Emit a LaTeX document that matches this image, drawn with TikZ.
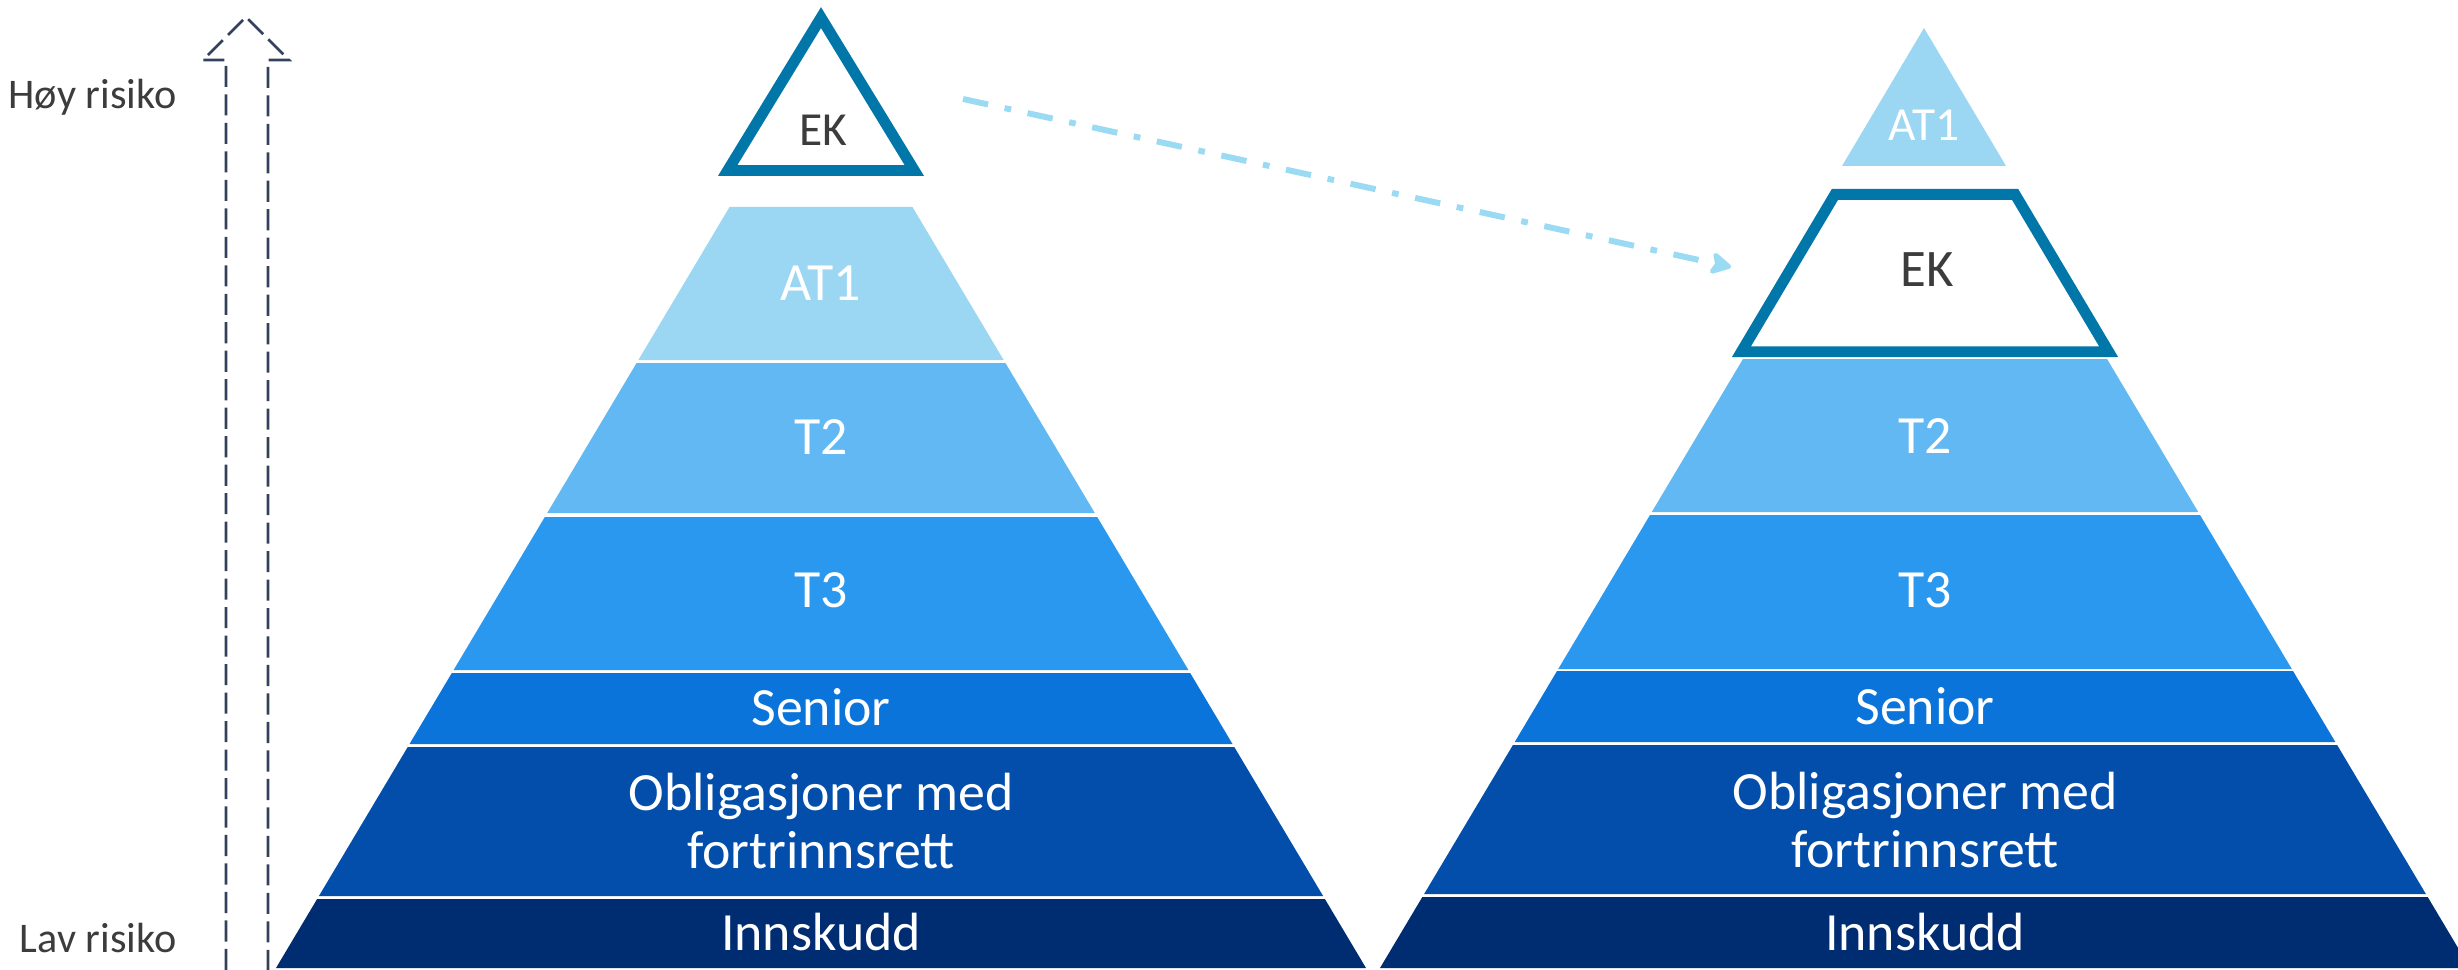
\documentclass[tikz,border=0pt]{standalone}
\usepackage{fontspec}
\setmainfont{Carlito}
\usetikzlibrary{arrows.meta}

\definecolor{cAT}{RGB}{155,214,242}
\definecolor{cTtwo}{RGB}{98,184,242}
\definecolor{cTthree}{RGB}{43,152,240}
\definecolor{cSen}{RGB}{10,116,218}
\definecolor{cObl}{RGB}{3,78,171}
\definecolor{cInn}{RGB}{0,44,113}
\definecolor{cEK}{RGB}{0,119,168}
\definecolor{cShift}{RGB}{155,218,243}
\definecolor{cAxis}{RGB}{50,66,92}
\definecolor{cText}{RGB}{60,60,60}

% one horizontal slice of a pyramid: centre x, top y, bottom y, colour
\newcommand{\pyrband}[4]{%
  \fill[#4] ({#1-545+0.596*(968-#2)},#2) -- ({#1+545-0.596*(968-#2)},#2)
    -- ({#1+545-0.596*(968-#3)},#3) -- ({#1-545+0.596*(968-#3)},#3) -- cycle;}

\tikzset{
  bandlabel/.style={text=white, inner sep=0pt, text height=9.67pt, text depth=0pt,
    font=\fontsize{15.3}{16.5}\selectfont},
  twolinelabel/.style={text=white, inner sep=0pt, align=center,
    font=\fontsize{15.3}{16.5}\selectfont},
  risklabel/.style={text=cText, inner sep=0pt, text height=7.6pt, text depth=0pt,
    font=\fontsize{12}{14}\selectfont},
  ekbox/.style={draw=cEK, line width=3.1pt, fill=white, line join=miter},
  riskaxis/.style={draw=cAxis, line width=0.76pt, dash pattern=on 6pt off 2.1pt},
  shiftarrow/.style={draw=cShift, line width=1.7pt,
    dash pattern=on 7.3pt off 4.8pt on 1.9pt off 4.8pt,
    -{Stealth[length=7pt,width=7.5pt,inset=1.6pt,round]}},
}

\begin{document}
\begin{tikzpicture}[x=0.01cm,y=-0.01cm]
\path[use as bounding box] (0,0) rectangle (2458,970);
\clip (0,0) rectangle (2458,970);

% risk axis: open block arrow drawn with a dashed outline
\draw[riskaxis] (226,970) -- (226,60) -- (203,60) -- (246,17) -- (289,60) -- (268,60) -- (268,970);
\node[risklabel, anchor=east] (hoy) at (177,95) {Høy risiko};
\node[risklabel, anchor=east] (lav) at (177,939) {Lav risiko};

% left pyramid
\draw[ekbox] (821,17.6) -- (727.7,170.5) -- (914.3,170.5) -- cycle;
\node[risklabel, text height=8.54pt, font=\fontsize{13.5}{15}\selectfont] (lEK) at (823,130) {EK};
\pyrband{821}{207}{360}{cAT}
\pyrband{821}{363}{513}{cTtwo}
\pyrband{821}{517}{670}{cTthree}
\pyrband{821}{673}{744}{cSen}
\pyrband{821}{747}{896}{cObl}
\pyrband{821}{899}{968}{cInn}
\node[bandlabel] (lAT) at (821,283) {AT1};
\node[bandlabel] (lT2) at (821,437) {T2};
\node[bandlabel] (lT3) at (821,590) {T3};
\node[bandlabel] (lSen) at (821,708) {Senior};
\node[twolinelabel] (lObl) at (821,821) {Obligasjoner med\\fortrinnsrett};
\node[bandlabel] (lInn) at (821,933) {Innskudd};

% right pyramid
\fill[cAT] (1924,28) -- (2006,166) -- (1842,166) -- cycle;
\node[bandlabel, text height=8.54pt, font=\fontsize{13.5}{15}\selectfont] (rAT) at (1924,125) {AT1};
\draw[ekbox] (1835,194.3) -- (2015,194.3) -- (2108.6,351.7) -- (1741.4,351.7) -- cycle;
\node[risklabel, text height=9.47pt, font=\fontsize{15}{17}\selectfont] (rEK) at (1927,270) {EK};
\pyrband{1925}{359}{512}{cTtwo}
\pyrband{1925}{515}{669}{cTthree}
\pyrband{1925}{671}{742}{cSen}
\pyrband{1925}{745}{894}{cObl}
\pyrband{1925}{897}{968}{cInn}
\node[bandlabel] (rT2) at (1925,436) {T2};
\node[bandlabel] (rT3) at (1925,590) {T3};
\node[bandlabel] (rSen) at (1925,707) {Senior};
\node[twolinelabel] (rObl) at (1925,820) {Obligasjoner med\\fortrinnsrett};
\node[bandlabel] (rInn) at (1925,933) {Innskudd};

% EK moves below AT1
\coordinate (ekFrom) at (963,99);
\coordinate (ekTo) at (1731,267);
\draw[shiftarrow] (ekFrom) -- (ekTo);
\end{tikzpicture}
\end{document}
